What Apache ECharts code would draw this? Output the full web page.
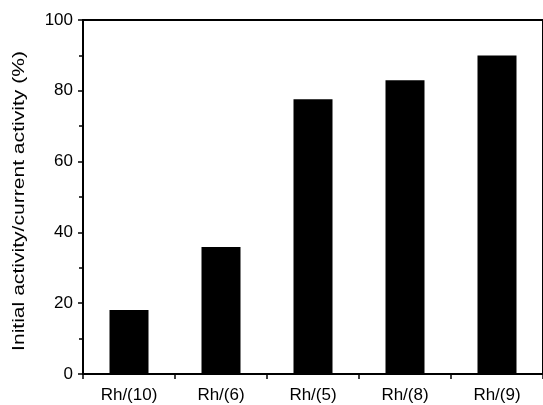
<!DOCTYPE html>
<html>
<head>
<meta charset="utf-8">
<script src="https://cdn.jsdelivr.net/npm/echarts@6/dist/echarts.min.js"></script>
<style>
  html, body { margin: 0; padding: 0; background: #fff; }
  #chart { width: 543px; height: 405px; }
</style>
</head>
<body>
<div id="chart"></div>
<script>
// categories and values
const categories = ['Rh/(10)', 'Rh/(6)', 'Rh/(5)', 'Rh/(8)', 'Rh/(9)'];
const activity = [18.1, 35.9, 77.6, 83.0, 90.0];
const yTicks = [0, 20, 40, 60, 80, 100];
const yName = 'Initial activity/current activity (%)';

const chart = echarts.init(document.getElementById('chart'));
const font = 'Liberation Sans, Arial, Helvetica, sans-serif';

const option = {
  animation: false,
  grid: {
    left: 83,
    right: -3,
    top: 20,
    bottom: 31,
    show: true,
    borderColor: '#000',
    borderWidth: 2
  },
  // y axis title, a bit stretched along its length like the original
  graphic: [{
    type: 'text',
    x: 19,
    y: 201,
    rotation: Math.PI / 2,
    scaleX: 1.24,
    style: {
      text: yName,
      fill: '#000',
      fontSize: 17,
      fontFamily: font,
      align: 'center',
      verticalAlign: 'middle'
    }
  }],
  xAxis: {
    type: 'category',
    data: categories,
    axisLine: { lineStyle: { color: '#000', width: 2 } },
    axisTick: { show: true, length: 5, inside: false, lineStyle: { color: '#000', width: 1.5 } },
    axisLabel: { color: '#000', fontSize: 17, fontFamily: font, margin: 13 }
  },
  yAxis: {
    type: 'value',
    min: yTicks[0],
    max: yTicks[yTicks.length - 1],
    interval: 20,
    axisLine: { show: true, lineStyle: { color: '#000', width: 2 } },
    axisTick: { show: true, length: 5, lineStyle: { color: '#000', width: 1.5 } },
    minorTick: { show: true, splitNumber: 2, length: 4, lineStyle: { color: '#000', width: 1.5 } },
    splitLine: { show: false },
    axisLabel: { color: '#000', fontSize: 17, fontFamily: font, margin: 10 }
  },
  series: [{
    type: 'bar',
    data: activity,
    barWidth: 39,
    itemStyle: { color: '#000' }
  }]
};

chart.setOption(option);
</script>
</body>
</html>
